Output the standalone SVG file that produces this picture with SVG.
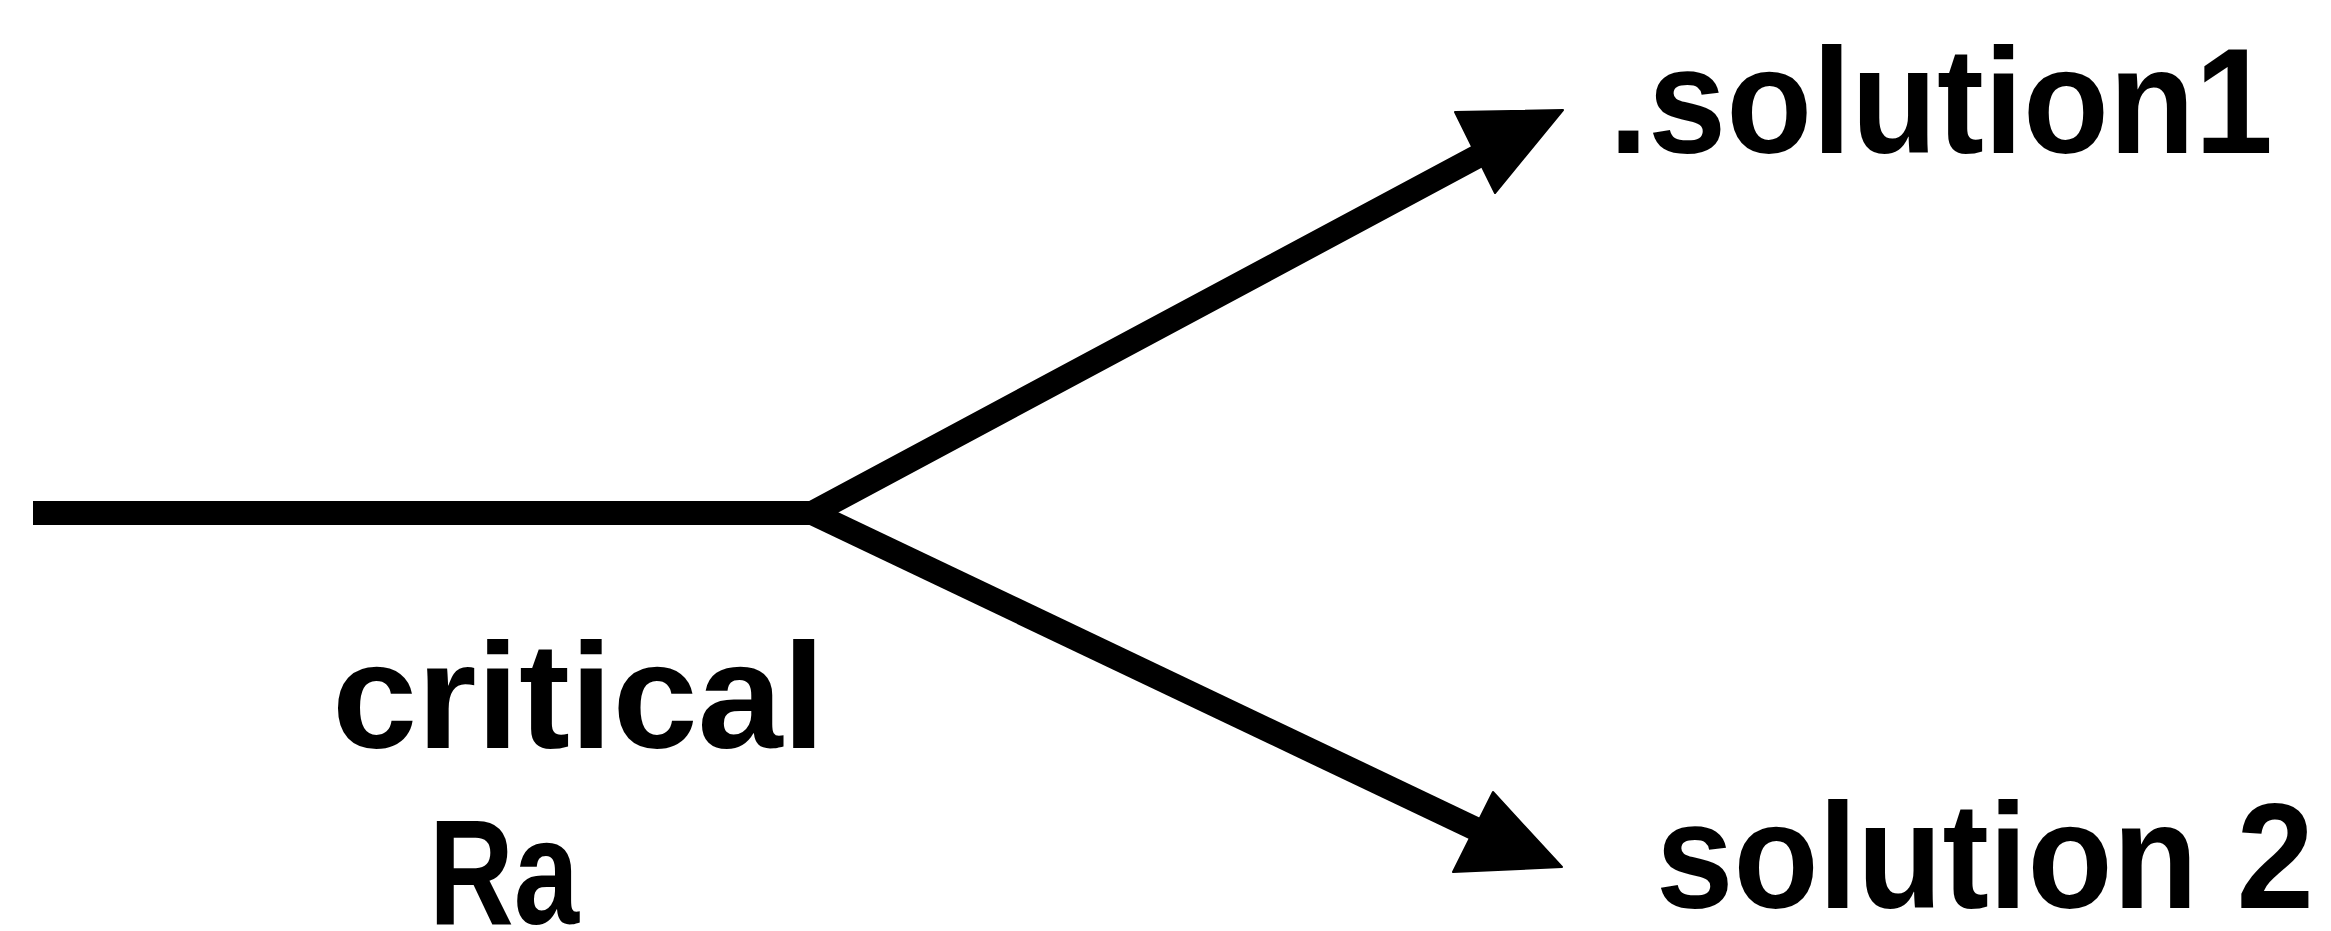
<svg xmlns="http://www.w3.org/2000/svg" width="2331" height="931" viewBox="0 0 2331 931">
  <style>
    .lbl { font-family: "Liberation Sans", Arial, sans-serif; font-weight: bold; font-size: 150px; fill: #000; }
    .wire { fill: none; stroke: #000; stroke-width: 24; stroke-linejoin: round; stroke-linecap: butt; }
    .head { fill: #000; stroke: #000; stroke-width: 2; stroke-linejoin: round; }
  </style>
  <rect width="2331" height="931" fill="#fff"/>

  <!-- branch lines and arrowheads -->
  <g id="connectors">
    <path class="wire" d="M33,513 L812,513 L1482,154"/>
    <path class="wire" d="M812,513 L1480,831"/>
    <polygon class="head" points="1563,110 1455,112 1495,193"/>
    <polygon class="head" points="1562,867 1493,792 1453,872"/>
  </g>

  <g id="critical-ra">
    <text class="lbl" x="332" y="748" textLength="493" lengthAdjust="spacingAndGlyphs">critical</text>
    <text class="lbl" x="429" y="924" font-size="136" textLength="150" lengthAdjust="spacingAndGlyphs">Ra</text>
  </g>

  <g id="solution1">
    <text class="lbl" x="1609" y="153" textLength="664" lengthAdjust="spacingAndGlyphs">.solution1</text>
  </g>

  <g id="solution2">
    <text class="lbl" x="1656" y="908" textLength="658" lengthAdjust="spacingAndGlyphs">solution 2</text>
  </g>
</svg>
